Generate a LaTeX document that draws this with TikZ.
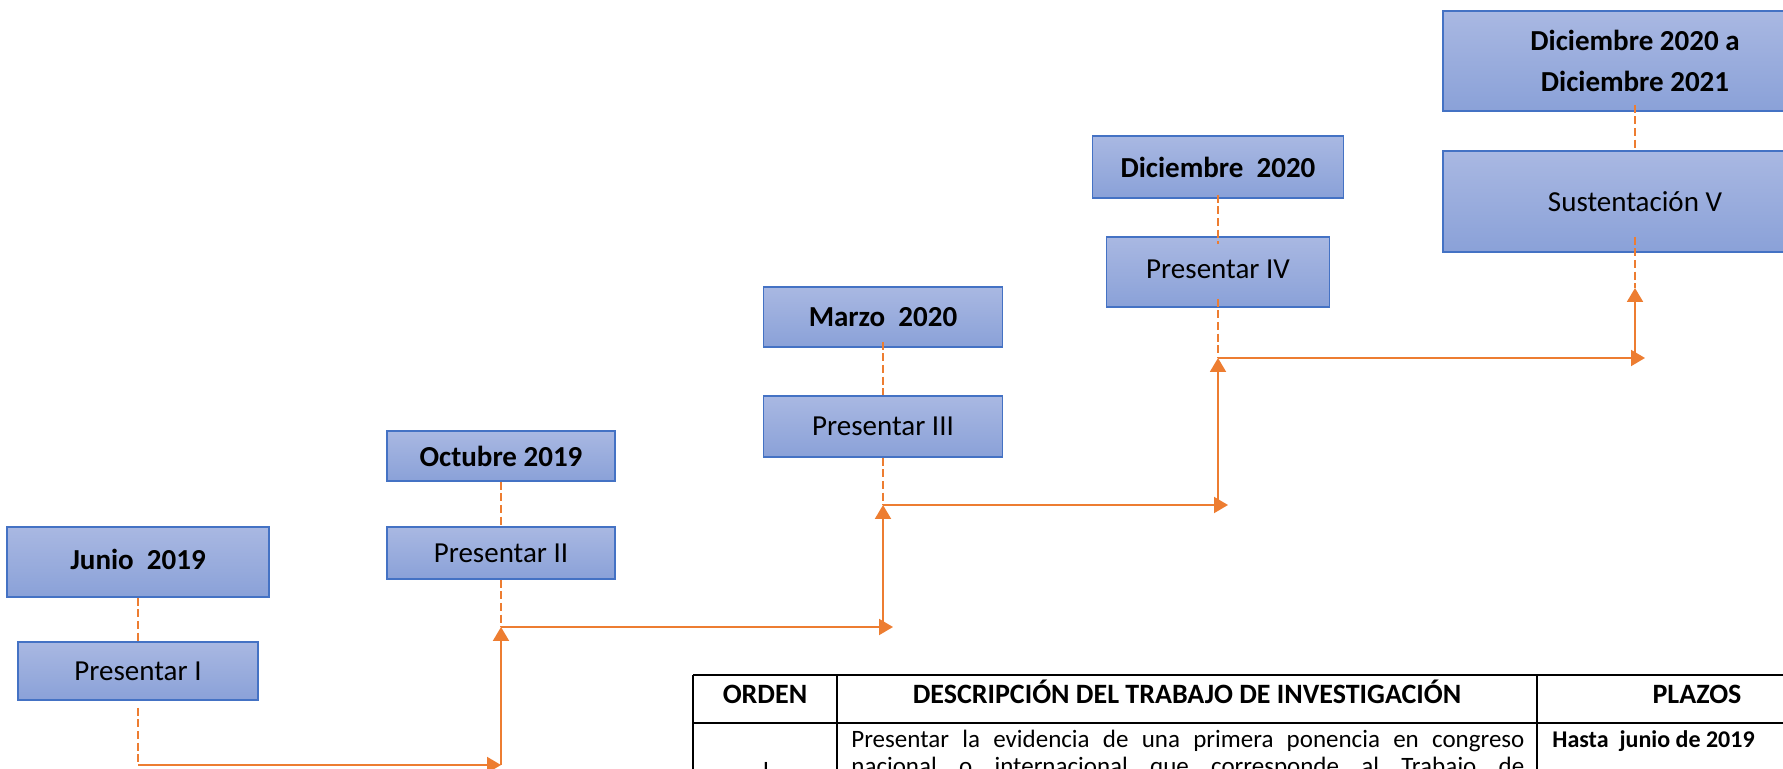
\documentclass[tikz,border=0pt]{standalone}
\usepackage{fontspec}
\setmainfont{Carlito}
\usetikzlibrary{arrows.meta}
\definecolor{boxtop}{HTML}{A9B8E2}
\definecolor{boxbot}{HTML}{8AA1D8}
\definecolor{boxline}{HTML}{4472C4}
\definecolor{flowc}{HTML}{ED7D31}
\begin{document}
\begin{tikzpicture}[x=0.5pt,y=-0.5pt,
  date/.style={draw=boxline,line width=0.8pt,top color=boxtop,bottom color=boxbot,inner sep=0pt,align=center,font=\fontsize{14.5}{20.5}\selectfont\bfseries},
  task/.style={date,font=\fontsize{14.5}{18}\selectfont},
  link/.style={draw=flowc,line width=1.4pt,dash pattern=on 4pt off 1.8pt},
  flow/.style={draw=flowc,line width=1pt,-{Triangle[length=7pt,width=8pt]}},
  head/.style={anchor=base,inner sep=0pt,font=\fontsize{14}{17}\selectfont\bfseries},
  tabline/.style={line width=1pt}]
  \useasboundingbox (0,0) rectangle (1783,769);
  \clip (0,0) rectangle (1783,769);
  % boxes
  \node[date,minimum width=131pt,minimum height=35pt] (junio) at (138,562) {\raisebox{3pt}{Junio\ \ 2019}};
  \node[task,minimum width=120pt,minimum height=29pt] (p1) at (138,671) {Presentar I};
  \node[date,minimum width=114pt,minimum height=25pt] (octubre) at (501,456) {\raisebox{-2pt}{Octubre 2019}};
  \node[task,minimum width=114pt,minimum height=26pt] (p2) at (501,553) {\raisebox{-1.5pt}{Presentar II}};
  \node[date,minimum width=119.5pt,minimum height=30pt] (marzo) at (883,317) {Marzo\ \ 2020};
  \node[task,minimum width=119.5pt,minimum height=30.5pt] (p3) at (883,426.5) {Presentar III};
  \node[date,minimum width=125.5pt,minimum height=31pt] (diciembre) at (1218,167) {Diciembre\ \ 2020};
  \node[task,minimum width=111.5pt,minimum height=35pt] (p4) at (1218,272) {\raisebox{3pt}{Presentar IV}};
  \node[date,minimum width=192pt,minimum height=50pt] (final) at (1635,61) {Diciembre 2020 a\\Diciembre 2021};
  \node[task,minimum width=192pt,minimum height=50.5pt] (p5) at (1635,201.5) {\raisebox{-1.5pt}{Sustentación V}};
  % turning points
  \coordinate (d1) at (138,765);
  \coordinate (d2) at (501,627);
  \coordinate (d3) at (883,505);
  \coordinate (d4) at (1218,358);
  \coordinate (d5) at (1635,288);
  % dashed links
  \draw[link] (junio.south) -- (p1.north);
  \draw[link] (octubre.south) -- (p2.north);
  \draw[link] ([yshift=3pt]marzo.south) -- (p3.north);
  \draw[link] ([yshift=2pt]diciembre.south) -- ([yshift=-4pt]p4.north);
  \draw[link] ([yshift=3.5pt]final.south) -- (p5.north);
  \draw[link] ([yshift=-3.5pt]p1.south) -- (d1);
  \draw[link] (p2.south) -- (d2);
  \draw[link] (p3.south) -- (d3);
  \draw[link] ([yshift=4.5pt]p4.south) -- (d4);
  \draw[link] ([yshift=8pt]p5.south) -- (d5);
  % steps
  \draw[flow] (d1) -- (d1 -| d2);
  \draw[flow] (d1 -| d2) -- (d2);
  \draw[flow] (d2) -- ([xshift=5pt]d2 -| d3);
  \draw[flow] (d2 -| d3) -- (d3);
  \draw[flow] (d3) -- ([xshift=5pt]d3 -| d4);
  \draw[flow] (d3 -| d4) -- (d4);
  \draw[flow] (d4) -- ([xshift=5pt]d4 -| d5);
  \draw[flow] (d4 -| d5) -- (d5);
  % table
  \draw[tabline] (693,675) -- (1900,675);
  \draw[tabline] (693,723) -- (1900,723);
  \draw[tabline] (693,675) -- (693,800);
  \draw[tabline] (837,675) -- (837,800);
  \draw[tabline] (1537,675) -- (1537,800);
  \node[head] (orden) at (765,704) {ORDEN};
  \node[head] (descripcion) at (1187,704) {DESCRIPCIÓN DEL TRABAJO DE INVESTIGACIÓN};
  \node[head] (plazos) at (1697,704) {PLAZOS};
  \node[anchor=base] (orden1) at (766,778) {\fontsize{12.5}{13.5}\selectfont I};
  \node[anchor=north west,inner sep=0pt,text width=336.5pt,align=justify,font=\fontsize{12.5}{13.5}\selectfont] (texto1) at (851,730)
    {\hyphenpenalty=10000\tolerance=10000\parfillskip=0pt Presentar la evidencia de una primera ponencia en congreso\break nacional o internacional que corresponde al Trabajo de\par};
  \node[anchor=base west,inner sep=0pt,font=\fontsize{12}{14}\selectfont\bfseries] (plazo1) at (1552,747) {Hasta\ \ junio de 2019};
\end{tikzpicture}
\end{document}
